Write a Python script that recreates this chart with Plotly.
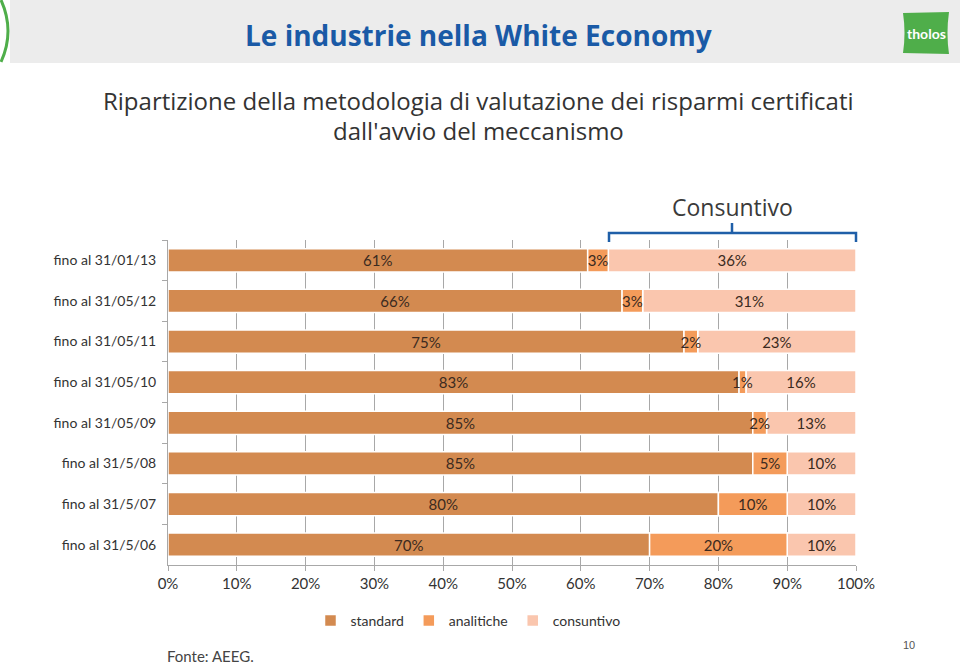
import plotly.graph_objects as go

categories = ["fino al 31/01/13", "fino al 31/05/12", "fino al 31/05/11", "fino al 31/05/10",
              "fino al 31/05/09", "fino al 31/5/08", "fino al 31/5/07", "fino al 31/5/06"]
standard = [61, 66, 75, 83, 85, 85, 80, 70]
analitiche = [3, 3, 2, 1, 2, 5, 10, 20]
consuntivo = [36, 31, 23, 16, 13, 10, 10, 10]
x_ticks = [0, 10, 20, 30, 40, 50, 60, 70, 80, 90, 100]
x_ticklabels = [f"{v}%" for v in x_ticks]

W, H = 960, 665
L, R, T, B = 168, 856, 240, 565


def px(x):
    return (x - L) / (R - L)


def py(y):
    return (B - y) / (B - T)


label_font = dict(family="Lato", size=15, color="#3b2a20")

# segment starts (stacking done explicitly so the narrow middle segment's label can sit on top)
base_standard = [0] * len(standard)
base_analitiche = list(standard)
base_consuntivo = [s + a for s, a in zip(standard, analitiche)]

fig = go.Figure()
# draw order: standard, consuntivo, analitiche (so analitiche labels overlay neighbours)
series = [("standard", standard, base_standard, "#D38A50", 1),
          ("consuntivo", consuntivo, base_consuntivo, "#FAC6AE", 3),
          ("analitiche", analitiche, base_analitiche, "#F49B5A", 2)]
for name, vals, base, col, rank in series:
    fig.add_trace(go.Bar(
        y=categories, x=vals, base=base, name=name, orientation="h", legendrank=rank,
        marker=dict(color=col, line=dict(color="white", width=1.5)),
        text=[f"{v}%" for v in vals], texttemplate="%{text}",
        textposition="inside", insidetextanchor="middle", constraintext="none", textangle=0,
        textfont=label_font,
        hoverinfo="skip",
    ))

shapes = []
# header band
shapes.append(dict(type="rect", xref="paper", yref="paper", x0=px(10), x1=px(960), y0=py(63), y1=py(0),
                   fillcolor="#ececec", line=dict(width=0), layer="below"))
# green arc
shapes.append(dict(type="path", xref="paper", yref="paper",
                   path=f"M {px(1)} {py(0)} Q {px(15)} {py(31)} {px(1)} {py(62)}",
                   line=dict(color="#4fae4a", width=3)))
# logo
shapes.append(dict(type="path", xref="paper", yref="paper",
                   path=(f"M {px(903)} {py(13)} L {px(949)} {py(12)} Q {px(946)} {py(33)} {px(949)} {py(54)} "
                         f"L {px(903)} {py(53)} Q {px(906)} {py(33)} {px(903)} {py(13)} Z"),
                   fillcolor="#4fae4a", line=dict(width=0)))
# bracket
bc = "#1f5fa8"
shapes.append(dict(type="path", xref="paper", yref="paper",
                   path=f"M {px(609)} {py(242)} L {px(609)} {py(233)} L {px(856)} {py(233)} L {px(856)} {py(242)}",
                   line=dict(color=bc, width=2.5)))
shapes.append(dict(type="line", xref="paper", yref="paper", x0=px(732), x1=px(732), y0=py(233), y1=py(223),
                   line=dict(color=bc, width=2.5)))

annotations = [
    dict(text="<b>Le industrie nella White Economy</b>", x=px(478), y=py(35), xref="paper", yref="paper",
         showarrow=False, font=dict(family="Open Sans", size=28, color="#1a5aa6"), xanchor="center", yanchor="middle"),
    dict(text="<b>tholos</b>", x=px(926), y=py(33), xref="paper", yref="paper", showarrow=False,
         font=dict(family="Lato", size=14, color="white"), xanchor="center", yanchor="middle"),
    dict(text="Ripartizione della metodologia di valutazione dei risparmi certificati", x=px(478), y=py(100),
         xref="paper", yref="paper", showarrow=False, font=dict(family="Open Sans", size=24, color="#333333"),
         xanchor="center", yanchor="middle"),
    dict(text="dall'avvio del meccanismo", x=px(478), y=py(130),
         xref="paper", yref="paper", showarrow=False, font=dict(family="Open Sans", size=24, color="#333333"),
         xanchor="center", yanchor="middle"),
    dict(text="Consuntivo", x=px(732), y=py(207), xref="paper", yref="paper", showarrow=False,
         font=dict(family="Open Sans", size=23, color="#3a3a3a"), xanchor="center", yanchor="middle"),
    dict(text="Fonte: AEEG.", x=px(165), y=py(656), xref="paper", yref="paper", showarrow=False,
         font=dict(family="Lato", size=15, color="#444444"), xanchor="left", yanchor="middle"),
    dict(text="10", x=px(909), y=py(645), xref="paper", yref="paper", showarrow=False,
         font=dict(family="Liberation Sans", size=11, color="#555555"), xanchor="center", yanchor="middle"),
]

fig.update_layout(
    width=W, height=H, barmode="overlay", bargap=0.43,
    margin=dict(l=L, r=W - R, t=T, b=H - B, pad=0),
    paper_bgcolor="white", plot_bgcolor="white",
    font=dict(family="Lato", size=14, color="#333333"),
    shapes=shapes, annotations=annotations,
    legend=dict(orientation="h", x=px(468), y=py(621), xanchor="center", yanchor="middle",
                font=dict(family="Lato", size=14, color="#333333"), traceorder="normal",
                itemwidth=30, bgcolor="rgba(0,0,0,0)"),
    xaxis=dict(range=[0, 100], tickvals=x_ticks, ticktext=x_ticklabels, showgrid=True,
               gridcolor="#a8a8a8", gridwidth=1, showline=True, linecolor="#a8a8a8", linewidth=1,
               ticks="outside", ticklen=5, tickcolor="#a8a8a8",
               tickfont=dict(family="Lato", size=15, color="#333333"), zeroline=False, fixedrange=True),
    yaxis=dict(categoryorder="array", categoryarray=categories, autorange="reversed",
               showline=True, linecolor="#a8a8a8", linewidth=1, ticks="outside", ticklen=5,
               tickcolor="#a8a8a8", tickson="boundaries", showgrid=False,
               tickfont=dict(family="Lato", size=14, color="#333333"), ticklabelstandoff=8),
)

fig.write_html("out.html", config={"displayModeBar": False},
               post_script="document.body.style.margin='0';document.body.style.padding='0';")
